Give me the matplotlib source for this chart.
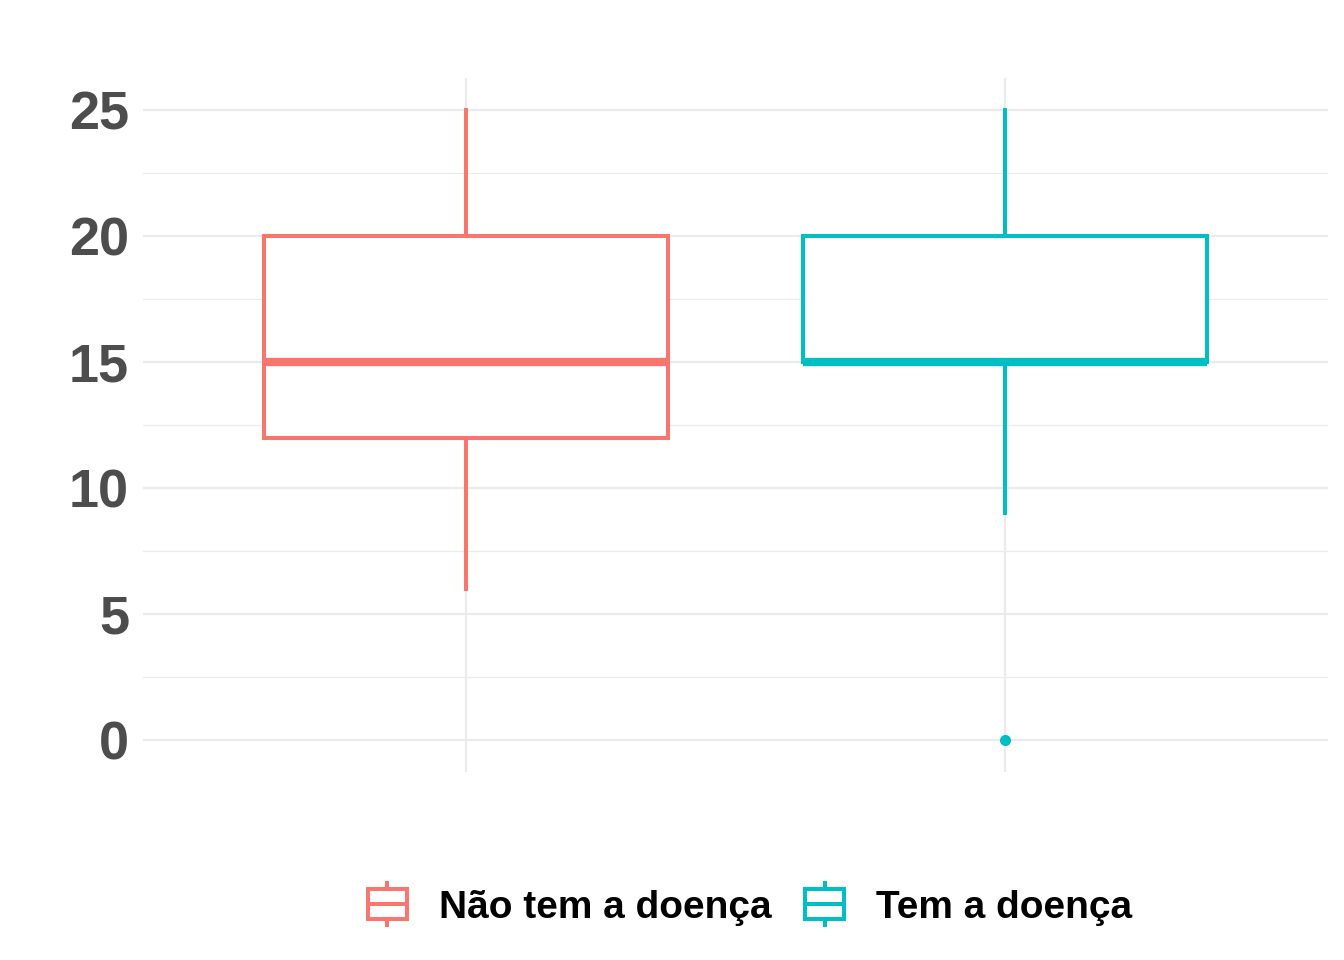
import matplotlib
matplotlib.use('Agg')
import matplotlib.pyplot as plt
from matplotlib.legend_handler import HandlerBase
from matplotlib.lines import Line2D
from matplotlib.patches import Rectangle

# Data
groups = ['Não tem a doença', 'Tem a doença']
colors = ['#F8766D', '#00BFC4']
whislo = [6, 9]
q1 = [12, 15]
med = [15, 15]
q3 = [20, 20]
whishi = [25, 25]
fliers = [[], [0]]
y_ticks = [0, 5, 10, 15, 20, 25]

plt.rcParams['font.family'] = ['Liberation Sans', 'DejaVu Sans']

fig = plt.figure(figsize=(13.44, 9.6), dpi=100)
ax = fig.add_axes([0.1064, 0.1958, 0.8816, 0.7229])

for i in range(len(groups)):
    stats = [{'whislo': whislo[i], 'q1': q1[i], 'med': med[i], 'q3': q3[i],
              'whishi': whishi[i], 'fliers': fliers[i]}]
    c = colors[i]
    ax.bxp(stats, positions=[i + 1], widths=0.75, showcaps=False,
           patch_artist=True,
           boxprops=dict(facecolor='white', edgecolor=c, linewidth=2.9),
           whiskerprops=dict(color=c, linewidth=2.9),
           medianprops=dict(color=c, linewidth=6, solid_capstyle='butt'),
           flierprops=dict(marker='o', markerfacecolor=c, markeredgecolor=c,
                           markersize=7),
           zorder=3)

ax.set_xlim(0.4, 2.6)
ax.set_ylim(-1.27, 26.27)
ax.set_yticks(y_ticks)
ax.set_yticks([2.5, 7.5, 12.5, 17.5, 22.5], minor=True)
ax.set_xticks([1, 2])
ax.set_xticklabels([])
ax.set_axisbelow(True)
ax.grid(True, which='major', color='#EBEBEB', linewidth=1.6, zorder=0)
ax.grid(True, which='minor', axis='y', color='#EBEBEB', linewidth=0.9, zorder=0)
ax.tick_params(axis='both', which='both', length=0)
ax.tick_params(axis='y', pad=10)
for lab in ax.get_yticklabels():
    lab.set_fontsize(39)
    lab.set_fontweight('bold')
    lab.set_color('#4D4D4D')
for s in ax.spines.values():
    s.set_visible(False)


class BoxHandler(HandlerBase):
    def create_artists(self, legend, orig_handle, xdescent, ydescent,
                       width, height, fontsize, trans):
        c = orig_handle.get_color()
        lw = 2.9
        cx = width / 2 - xdescent
        bw = width
        top = height * 1.3
        bot = -height * 0.25
        span = top - bot
        rect = Rectangle((cx - bw / 2, bot + span * 0.14), bw, span * 0.72,
                         facecolor='white', edgecolor=c, linewidth=lw,
                         transform=trans)
        mid = Line2D([cx - bw / 2, cx + bw / 2], [(top + bot) / 2] * 2,
                     color=c, linewidth=lw, transform=trans)
        w1 = Line2D([cx, cx], [top, bot + span * 0.86], color=c,
                    linewidth=lw, transform=trans)
        w2 = Line2D([cx, cx], [bot, bot + span * 0.14], color=c,
                    linewidth=lw, transform=trans)
        return [w1, w2, rect, mid]


handles = [Line2D([], [], color=c) for c in colors]
leg = fig.legend(handles, groups, loc='center', bbox_to_anchor=(0.558, 0.054),
                 ncol=2, frameon=False, handler_map={Line2D: BoxHandler()},
                 prop={'size': 28, 'weight': 'bold'}, handlelength=1.0,
                 handletextpad=0.82, columnspacing=0.87)

fig.savefig('out.png', dpi=100)
